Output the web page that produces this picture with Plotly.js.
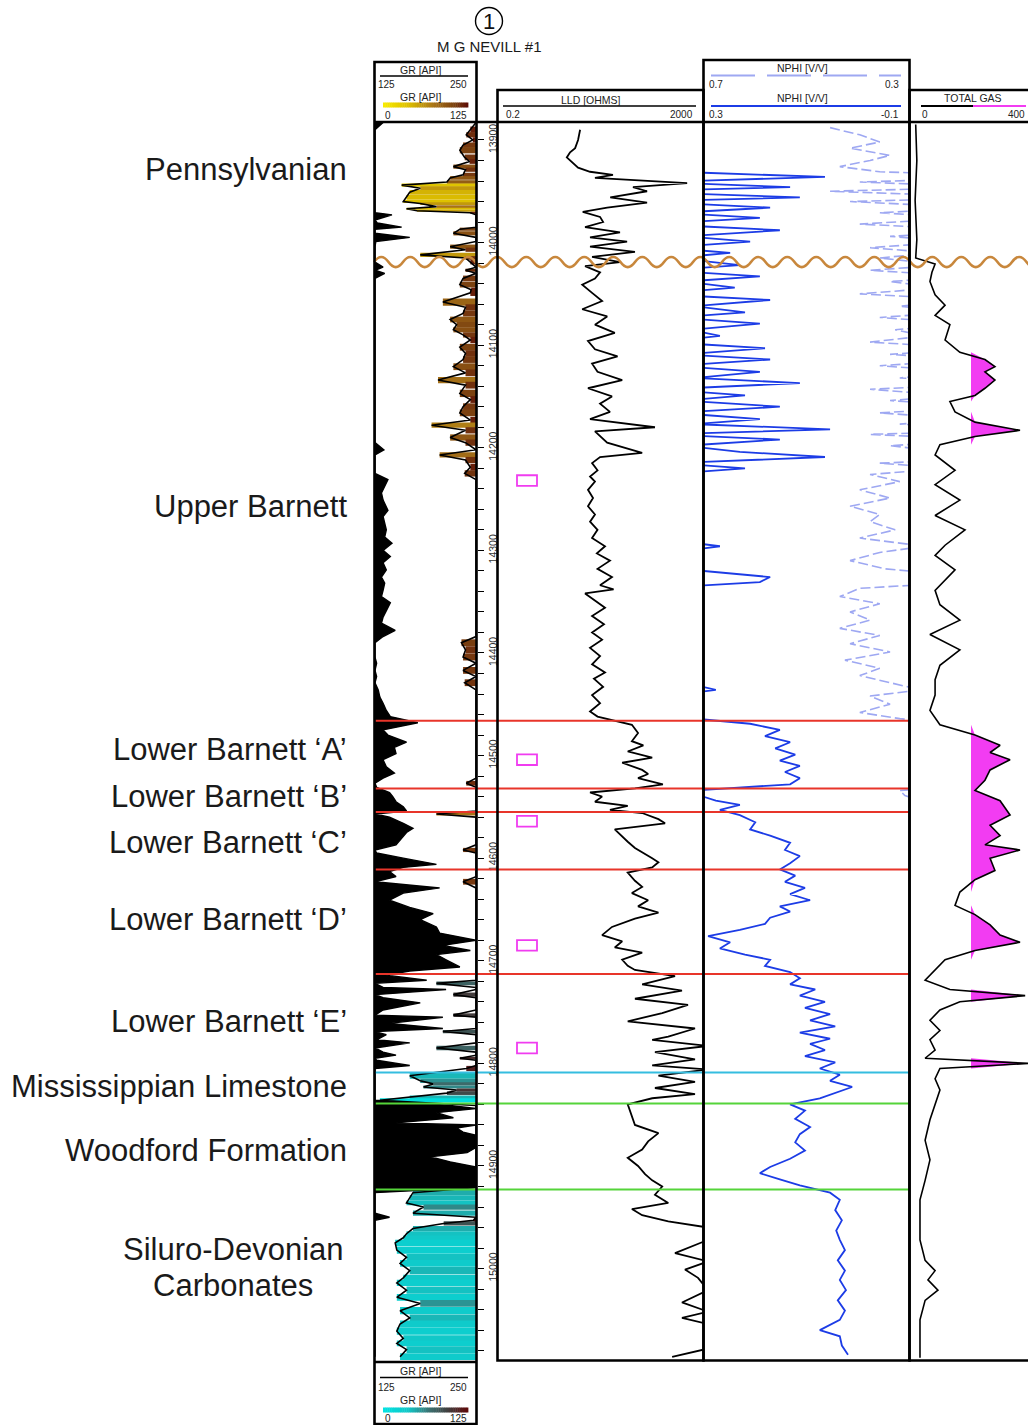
<!DOCTYPE html>
<html><head><meta charset="utf-8">
<script src="https://cdn.plot.ly/plotly-3.0.1.min.js"></script>
<style>html,body{margin:0;padding:0;background:#fff;}#chart{width:1028px;height:1425px;}</style>
</head><body><div id="chart"></div>
<script>
// ---------------- DATA ----------------
const wellName = "M G NEVILL #1";
const wellNumber = "1";
const depthTicks = [13900,14000,14100,14200,14300,14400,14500,14600,14700,14800,14900,15000];

// Gamma ray (API)
const grDepth = [13883,13890,13895,13900,13905,13910,13917,13921,13926,13929,13934,13937,13941,13944,13947,13951,13956,13960,13962,13965,13967,13969,13971,13973,13978,13981,13985,13987,13991,13995,13999,14004,14007,14012,14015,14019,14024,14027,14030,14035,14041,14046,14049,14058,14063,14069,14075,14080,14085,14090,14095,14102,14108,14114,14121,14127,14134,14139,14147,14153,14160,14166,14173,14178,14183,14190,14195,14202,14207,14212,14219,14225,14231,14238,14244,14251,14261,14267,14273,14280,14287,14293,14300,14306,14312,14319,14326,14332,14339,14345,14351,14358,14365,14371,14378,14384,14390,14397,14404,14410,14417,14423,14429,14436,14443,14449,14456,14462,14468,14475,14480,14487,14492,14498,14504,14511,14517,14522,14527,14531,14536,14540,14545,14550,14554,14557,14560,14566,14571,14575,14582,14587,14592,14595,14600,14606,14609,14613,14618,14623,14629,14634,14641,14648,14654,14660,14667,14673,14680,14685,14690,14694,14699,14706,14710,14714,14719,14722,14726,14728,14733,14736,14741,14748,14753,14755,14761,14766,14769,14772,14777,14780,14785,14789,14792,14795,14797,14802,14805,14812,14817,14820,14823,14826,14829,14833,14836,14841,14844,14848,14853,14858,14860,14863,14867,14870,14882,14887,14891,14896,14901,14911,14921,14926,14931,14936,14940,14946,14950,14953,14956,14961,14966,14970,14975,14982,14989,14995,15002,15009,15014,15021,15028,15034,15041,15048,15054,15061,15068,15073,15079,15086];
const grValue = [135,118,113,121,109,105,111,117,97,112,109,93,89,33,56,43,39,35,56,76,39,52,118,146,125,128,158,105,97,168,126,93,112,56,112,118,135,112,137,109,105,119,118,84,112,109,93,101,97,109,118,105,112,109,97,112,78,112,105,118,109,105,118,70,112,93,112,136,80,112,118,111,141,137,133,135,141,135,137,139,137,146,135,144,135,139,133,137,135,133,144,139,135,133,150,135,107,112,109,127,109,127,111,129,131,135,139,144,178,135,141,164,149,151,135,139,149,135,113,127,143,147,151,160,164,76,143,160,172,164,156,151,109,127,160,201,160,143,151,109,205,160,143,168,197,181,201,205,252,209,243,201,213,230,168,139,189,76,135,213,97,135,181,135,97,209,143,209,84,139,127,168,76,135,151,105,127,168,113,43,56,72,60,101,89,43,6,218,255,201,222,151,255,226,234,260,265,239,193,218,265,270,270,47,43,39,60,47,143,122,85,47,39,35,25,27,39,31,43,35,27,39,27,56,31,43,31,27,35,27,39,31];

// Deep laterolog resistivity (ohm.m)
const lldDepth = [13890,13900,13908,13912,13917,13922,13927,13931,13934,13937,13942,13946,13950,13956,13961,13966,13970,13975,13980,13985,13990,13995,13999,14004,14009,14014,14019,14023,14029,14035,14041,14049,14057,14065,14072,14080,14088,14096,14104,14111,14118,14126,14134,14142,14150,14157,14165,14172,14180,14184,14190,14195,14205,14209,14215,14222,14228,14233,14241,14249,14257,14265,14272,14280,14288,14296,14303,14310,14318,14326,14334,14338,14342,14349,14356,14364,14372,14380,14387,14395,14403,14411,14419,14425,14433,14441,14449,14457,14462,14470,14478,14486,14490,14496,14502,14507,14514,14518,14522,14528,14532,14536,14540,14545,14549,14553,14556,14562,14566,14572,14579,14584,14590,14594,14600,14604,14609,14614,14622,14628,14634,14641,14647,14653,14659,14667,14675,14681,14687,14692,14699,14705,14709,14715,14723,14729,14737,14743,14751,14759,14766,14774,14777,14783,14789,14796,14802,14806,14812,14818,14824,14830,14834,14840,14852,14860,14868,14876,14884,14892,14900,14908,14914,14920,14928,14936,14942,14948,14954,14960,14972,14985,14993,15001,15009,15021,15033,15042,15048,15054,15078,15086];
const lldValue = [8,7.3,6.4,5.1,4.4,5.6,7.3,12.5,35,15.6,980,86,162,31,162,27,9,19.6,22.5,10,48,12.5,66,12.5,94,13.7,48,10,19.6,15.6,8.8,13.7,21.5,8.8,27,15.6,38,11.4,15.6,43,13.7,17.5,53,11.4,33.5,19.6,30.6,12.5,231,15.6,21.5,27,130,19.6,13.7,17.5,12.5,15.6,11.4,14.3,11.4,15.6,12.5,17.5,13.7,24.5,17,30.6,17.5,33.5,19.6,36,10,15.6,24.5,13.7,23.4,13.7,21.5,12.5,19.6,13.7,24.5,14.9,22.5,13.7,19.6,12.5,17.5,82,108,82,137,68,204,53,130,170,108,330,94,12.5,21.5,15.6,68,30.6,130,270,363,38,53,68,94,130,204,270,204,68,94,130,82,170,108,270,94,33.5,21.5,53,38,130,53,68,94,569,130,778,94,1019,320,68,1396,420,204,2500,231,1396,204,2500,270,1396,231,1396,204,68,82,94,270,170,130,68,108,148,204,320,231,420,82,130,420,2500,2500,569,2500,891,1600,2500,778,2500,778,2500,2500,500];

// Neutron porosity (v/v)
const nphiDepth = [13888,13895,13902,13908,13915,13920,13926,13931,13936,13941,13946,13950,13956,13960,13966,13971,13976,13982,13988,13994,13999,14005,14010,14015,14022,14027,14033,14038,14044,14050,14056,14062,14068,14073,14079,14085,14091,14097,14103,14109,14114,14120,14126,14132,14137,14143,14149,14154,14160,14166,14172,14177,14182,14187,14192,14198,14204,14209,14215,14220,14226,14233,14241,14249,14257,14265,14272,14280,14288,14296,14302,14310,14318,14326,14331,14337,14345,14352,14360,14368,14376,14383,14391,14399,14407,14415,14422,14430,14436,14442,14450,14458,14464,14469,14475,14481,14487,14493,14499,14505,14510,14516,14522,14528,14534,14539,14544,14548,14553,14558,14565,14572,14578,14585,14592,14598,14605,14611,14617,14623,14629,14635,14641,14647,14652,14658,14664,14670,14676,14682,14688,14694,14699,14705,14711,14717,14723,14728,14734,14740,14746,14752,14758,14764,14770,14776,14781,14787,14793,14799,14805,14811,14817,14823,14829,14834,14840,14846,14854,14862,14869,14877,14885,14893,14901,14907,14913,14919,14926,14933,14943,14953,14963,14972,14982,14992,15002,15011,15021,15031,15041,15050,15060,15066,15075,15084];
const nphiValue = [0.454,0.396,0.357,0.415,0.337,0.376,0.435,0.357,0.064,0.396,0.132,0.454,0.113,0.415,0.171,0.357,0.191,0.396,0.152,0.337,0.210,0.376,0.249,0.357,0.230,0.376,0.191,0.337,0.240,0.396,0.171,0.318,0.220,0.357,0.191,0.327,0.269,0.376,0.181,0.337,0.171,0.357,0.191,0.318,0.113,0.376,0.220,0.337,0.152,0.357,0.191,0.318,0.054,0.376,0.152,0.337,0.230,0.064,0.357,0.220,0.376,0.318,0.396,0.337,0.415,0.357,0.376,0.327,0.396,0.269,0.357,0.415,0.347,0.171,0.191,0.396,0.435,0.357,0.415,0.376,0.435,0.357,0.415,0.337,0.425,0.357,0.396,0.327,0.277,0.376,0.337,0.396,0.318,0.210,0.152,0.181,0.132,0.161,0.122,0.152,0.113,0.142,0.113,0.132,0.318,0.308,0.277,0.230,0.269,0.230,0.200,0.210,0.171,0.132,0.142,0.113,0.132,0.152,0.122,0.142,0.103,0.132,0.093,0.152,0.132,0.171,0.181,0.230,0.292,0.249,0.269,0.220,0.171,0.181,0.132,0.113,0.132,0.083,0.113,0.064,0.103,0.054,0.093,0.044,0.113,0.054,0.093,0.064,0.103,0.044,0.074,0.035,0.054,0.011,0.044,0.074,0.132,0.103,0.122,0.093,0.113,0.122,0.103,0.132,0.171,0.191,0.152,0.113,0.054,0.035,0.044,0.031,0.042,0.035,0.025,0.039,0.025,0.035,0.023,0.039,0.025,0.035,0.074,0.035,0.031,0.019];

// Total gas (units)
const gasDepth = [13885,13920,13959,13997,14015,14021,14029,14038,14051,14061,14071,14080,14095,14107,14114,14121,14126,14134,14142,14149,14155,14165,14175,14183,14189,14197,14207,14222,14236,14251,14266,14280,14295,14305,14319,14339,14353,14368,14382,14397,14412,14426,14441,14456,14470,14480,14490,14497,14504,14514,14524,14534,14544,14558,14568,14578,14587,14592,14600,14612,14621,14633,14646,14655,14665,14675,14682,14690,14699,14709,14719,14728,14734,14740,14748,14758,14768,14777,14787,14795,14800,14805,14815,14826,14841,14855,14875,14894,14914,14933,14972,14992,15002,15011,15021,15031,15050,15087];
const gasValue = [6,10,4,10,6,74,63,56,74,109,74,126,109,161,249,284,249,284,249,214,126,144,214,372,214,91,74,144,74,161,74,179,109,74,144,74,91,161,56,161,91,74,74,56,91,214,302,267,337,267,249,214,302,337,267,302,249,372,267,284,214,161,144,214,267,302,372,214,109,74,39,126,390,161,91,56,91,56,74,39,400,91,74,91,74,56,39,56,39,21,21,39,74,49,84,39,21,21];
const gasCutoff = 200;

// Formations
const formationNames = ["Pennsylvanian","Upper Barnett","Lower Barnett \u2018A\u2019","Lower Barnett \u2018B\u2019","Lower Barnett \u2018C\u2019","Lower Barnett \u2018D\u2019","Lower Barnett \u2018E\u2019","Mississippian Limestone","Woodford Formation"];
const formationLabelDepth = [13929,14257,14494,14540,14585,14660,14759,14823,14885];
const siluroLines = ["Siluro-Devonian","Carbonates"];
const siluroLabelDepth = [14981,15016];
const unconformityDepth = 14019;
const topDepth = [14466,14532,14555,14611,14713,14809,14839,14923];
const topColor = ["#e8352a","#e8352a","#e8352a","#e8352a","#e8352a","#35bde0","#55d43a","#55d43a"];
const coreDepth = [14232,14504,14564,14685,14785];
const coolScaleTop = 14713;

// ---------------- HELPERS (layout only) ----------------
const W = 1028, H = 1425;
const px = x => x / W, py = y => 1 - y / H;
const FONT = 'Arial, "Liberation Sans", sans-serif';
const warmScale = [[0,'#f8ec00'],[0.3,'#dcbe00'],[0.6,'#a87418'],[0.85,'#7a4010'],[1,'#5c0c06']];
const coolScale = [[0,'#00e2e2'],[0.3,'#12c6c6'],[0.55,'#3c7070'],[0.75,'#404242'],[1,'#600808']];
function hex2rgb(h){return [parseInt(h.slice(1,3),16),parseInt(h.slice(3,5),16),parseInt(h.slice(5,7),16)];}
function scaleColor(sc,t){
  for(let i=1;i<sc.length;i++){
    if(t<=sc[i][0]){const a=sc[i-1],b=sc[i];const f=(t-a[0])/(b[0]-a[0]);
      const ca=hex2rgb(a[1]),cb=hex2rgb(b[1]);
      return 'rgb('+ca.map((v,k)=>Math.round(v+(cb[k]-v)*f)).join(',')+')';}
  }
  return sc[sc.length-1][1];
}

// GR fill bars
const nG = grDepth.length;
const grW = grDepth.map((d,i)=>{
  const a = i>0 ? grDepth[i-1] : d-(grDepth[1]-grDepth[0]);
  const b = i<nG-1 ? grDepth[i+1] : d+(d-grDepth[i-1]);
  return (b-a)/2;
});
function barTrace(filterFn, scale){
  const idx = grDepth.map((d,i)=>i).filter(i=>filterFn(grDepth[i]));
  return {type:'bar', orientation:'h', xaxis:'x', yaxis:'y',
    y: idx.map(i=>grDepth[i]),
    base: idx.map(i=>Math.min(grValue[i],125)),
    x: idx.map(i=>125-Math.min(grValue[i],125)),
    width: idx.map(i=>grW[i]*1.02),
    marker:{color: idx.map(i=>Math.min(grValue[i],125)), colorscale: scale, cmin:0, cmax:125, line:{width:0}},
    hoverinfo:'skip', showlegend:false};
}

const traces = [
  barTrace(d=>d<coolScaleTop, warmScale),
  barTrace(d=>d>=coolScaleTop, coolScale),
  {type:'scatter', mode:'lines', xaxis:'x', yaxis:'y', y:grDepth,
   x:grValue.map(v=>Math.max(0,Math.min(125,v-125))), fill:'tozerox', fillcolor:'#000',
   line:{color:'#000', width:1.4}, hoverinfo:'skip'},
  {type:'scatter', mode:'lines', xaxis:'x', yaxis:'y', y:grDepth,
   x:grValue.map(v=>Math.min(125,v)), line:{color:'#000', width:1.6}, hoverinfo:'skip'},
  {type:'scatter', mode:'lines', xaxis:'x2', yaxis:'y', y:lldDepth, x:lldValue,
   line:{color:'#000', width:1.8}, hoverinfo:'skip'},
  {type:'scatter', mode:'lines', xaxis:'x4', yaxis:'y', y:nphiDepth, x:nphiValue,
   line:{color:'#9ea8f2', width:1.6, dash:'10px,4px'}, hoverinfo:'skip'},
  {type:'scatter', mode:'lines', xaxis:'x3', yaxis:'y', y:nphiDepth, x:nphiValue,
   line:{color:'#1c3ce6', width:1.8}, hoverinfo:'skip'},
  {type:'scatter', mode:'lines', xaxis:'x5', yaxis:'y', y:gasDepth, x:gasDepth.map(()=>gasCutoff),
   line:{width:0, color:'rgba(0,0,0,0)'}, hoverinfo:'skip'},
  {type:'scatter', mode:'lines', xaxis:'x5', yaxis:'y', y:gasDepth, x:gasValue.map(v=>Math.max(v,gasCutoff)),
   fill:'tonextx', fillcolor:'#f23cf2', line:{width:0, color:'rgba(0,0,0,0)'}, hoverinfo:'skip'},
  {type:'scatter', mode:'lines', xaxis:'x5', yaxis:'y', y:gasDepth, x:gasValue,
   line:{color:'#000', width:1.6}, hoverinfo:'skip'}
];

// ---------------- SHAPES ----------------
const shapes = [];
const BL = {color:'#000', width:2.6};
function rectP(x0,y0,x1,y1,line,fill){shapes.push({type:'rect',xref:'paper',yref:'paper',x0:px(x0),x1:px(x1),y0:py(y0),y1:py(y1),line:line||BL,fillcolor:fill||'rgba(0,0,0,0)',layer:'above'});}
function lineP(x0,y0,x1,y1,line){shapes.push({type:'line',xref:'paper',yref:'paper',x0:px(x0),x1:px(x1),y0:py(y0),y1:py(y1),line:line||BL,layer:'above'});}

// formation tops
topDepth.forEach((d,i)=>shapes.push({type:'line',xref:'paper',yref:'y',x0:px(375),x1:px(909),y0:d,y1:d,line:{color:topColor[i],width:2},layer:'above'}));
// unconformity wave
(function(){
  const P=29, A=9.8; let x=374, s=-1; let p='M'+px(x)+','+unconformityDepth;
  while(x<1040){ p+=' Q'+px(x+P/4)+','+(unconformityDepth+s*A)+' '+px(x+P/2)+','+unconformityDepth; x+=P/2; s=-s; }
  shapes.push({type:'path',xref:'paper',yref:'y',path:p,line:{color:'#c8873c',width:2.6},layer:'above'});
})();
// core markers
coreDepth.forEach(d=>shapes.push({type:'rect',xref:'paper',yref:'y',x0:px(517),x1:px(537),y0:d-5.2,y1:d+5.2,line:{color:'#f03cf0',width:1.8},fillcolor:'rgba(0,0,0,0)',layer:'above'}));

// track frames
rectP(374.5,62,476.5,1424);
lineP(374.5,122,1030,122);
lineP(374.5,1362,476.5,1362);
rectP(497.5,90,703.5,1360.5);
rectP(703.5,60,909.5,1360.5);
rectP(909.5,90,1032,1360.5);

// header scale lines
lineP(380,76,468,76,{color:'#000',width:1.5});
lineP(380,1377.5,468,1377.5,{color:'#000',width:1.5});
lineP(503,106,696,106,{color:'#000',width:1.5});
lineP(711,75.5,901,75.5,{color:'#9ea8f2',width:2,dash:'44px,12px'});
lineP(711,106,901,106,{color:'#1c3ce6',width:2});
lineP(921,106,973,106,{color:'#000',width:2});
lineP(973,106,1026,106,{color:'#f23cf2',width:2});
// gradient legends
function gradBar(x0,x1,y0,y1,scale){const n=40;for(let i=0;i<n;i++){const a=x0+(x1-x0)*i/n,b=x0+(x1-x0)*(i+1)/n+0.4;
  shapes.push({type:'rect',xref:'paper',yref:'paper',x0:px(a),x1:px(b),y0:py(y1),y1:py(y0),line:{width:0},fillcolor:scaleColor(scale,(i+0.5)/n),layer:'above'});}}
gradBar(383,468,102.5,107.5,warmScale);
gradBar(383,468,1407.5,1412.5,coolScale);
// well symbol
shapes.push({type:'circle',xref:'paper',yref:'paper',x0:px(475.5),x1:px(502.5),y0:py(34.5),y1:py(7.5),line:{color:'#000',width:1.4}});

// ---------------- ANNOTATIONS ----------------
const annotations = [];
function txt(t,x,y,size,xanchor,opt){annotations.push(Object.assign({text:t,xref:'paper',yref:'paper',x:px(x),y:py(y),xanchor:xanchor||'center',yanchor:'middle',showarrow:false,font:{family:FONT,size:size,color:'#222'}},opt||{}));}
txt(wellNumber,489,21.5,22,'center',{font:{family:FONT,size:22,color:'#111'}});
txt(wellName,489,46,15,'center',{font:{family:FONT,size:15,color:'#1a1a1a'}});
// GR header / footer
[[70,84,97,115],[1371,1387,1400,1418]].forEach(r=>{
  txt('GR [API]',421,r[0],10.5); txt('125',376,r[1],10,'left'); txt('250',469,r[1],10,'right');
  txt('GR [API]',421,r[2],10.5); txt('0',383,r[3],10,'left'); txt('125',469,r[3],10,'right');
});
txt('LLD [OHMS]',591,99.5,10.5); txt('0.2',504,114.5,10,'left'); txt('2000',695,114.5,10,'right');
txt('NPHI [V/V]',802,68.5,10.5); txt('0.7',707,84,10,'left'); txt('0.3',901,84,10,'right');
txt('NPHI [V/V]',802,98.5,10.5); txt('0.3',707,114.5,10,'left'); txt('-0.1',901,114.5,10,'right');
txt('TOTAL GAS',973,98,10.5); txt('0',920,114.5,10,'left'); txt('400',1027,114.5,10,'right');
// formation labels
formationNames.forEach((n,i)=>annotations.push({text:n,xref:'paper',yref:'y',x:px(349),y:formationLabelDepth[i],xanchor:'right',yanchor:'middle',showarrow:false,font:{family:FONT,size:31,color:'#1a1a1a'}}));
siluroLines.forEach((n,i)=>annotations.push({text:n,xref:'paper',yref:'y',x:px(233),y:siluroLabelDepth[i],xanchor:'center',yanchor:'middle',showarrow:false,font:{family:FONT,size:31,color:'#1a1a1a'}}));

const hidden = {visible:false, showgrid:false, zeroline:false, fixedrange:true};
const layout = {
  width:W, height:H, margin:{l:0,r:0,t:0,b:0}, paper_bgcolor:'#fff', plot_bgcolor:'rgba(0,0,0,0)',
  showlegend:false, hovermode:false, barmode:'overlay',
  xaxis: Object.assign({domain:[px(375),px(476)], range:[0,125], anchor:'y'}, hidden),
  xaxis2: Object.assign({domain:[px(498),px(703)], type:'log', range:[Math.log10(0.2),Math.log10(2000)], anchor:'y'}, hidden),
  xaxis3: Object.assign({domain:[px(704),px(909)], range:[0.3,-0.1], anchor:'y'}, hidden),
  xaxis4: Object.assign({overlaying:'x3', range:[0.7,0.3], anchor:'y'}, hidden),
  xaxis5: Object.assign({domain:[px(910),1], range:[-14,400], anchor:'y'}, hidden),
  yaxis: {domain:[py(1360),py(122)], range:[15089.1,13882.5], anchor:'free', position:px(477), side:'right',
    showgrid:false, zeroline:false, showline:false, fixedrange:true,
    ticks:'outside', ticklen:6, tickwidth:1, tickcolor:'#000',
    tickmode:'array', tickvals:depthTicks, ticktext:depthTicks.map(String), tickangle:-90,
    tickfont:{family:FONT,size:10.5,color:'#333'},
    minor:{ticks:'outside', ticklen:6, tickwidth:1, tickcolor:'#000', tickmode:'linear', tick0:13900, dtick:20, showgrid:false}},
  shapes: shapes, annotations: annotations
};
Plotly.newPlot('chart', traces, layout, {staticPlot:true, displayModeBar:false});
</script></body></html>
